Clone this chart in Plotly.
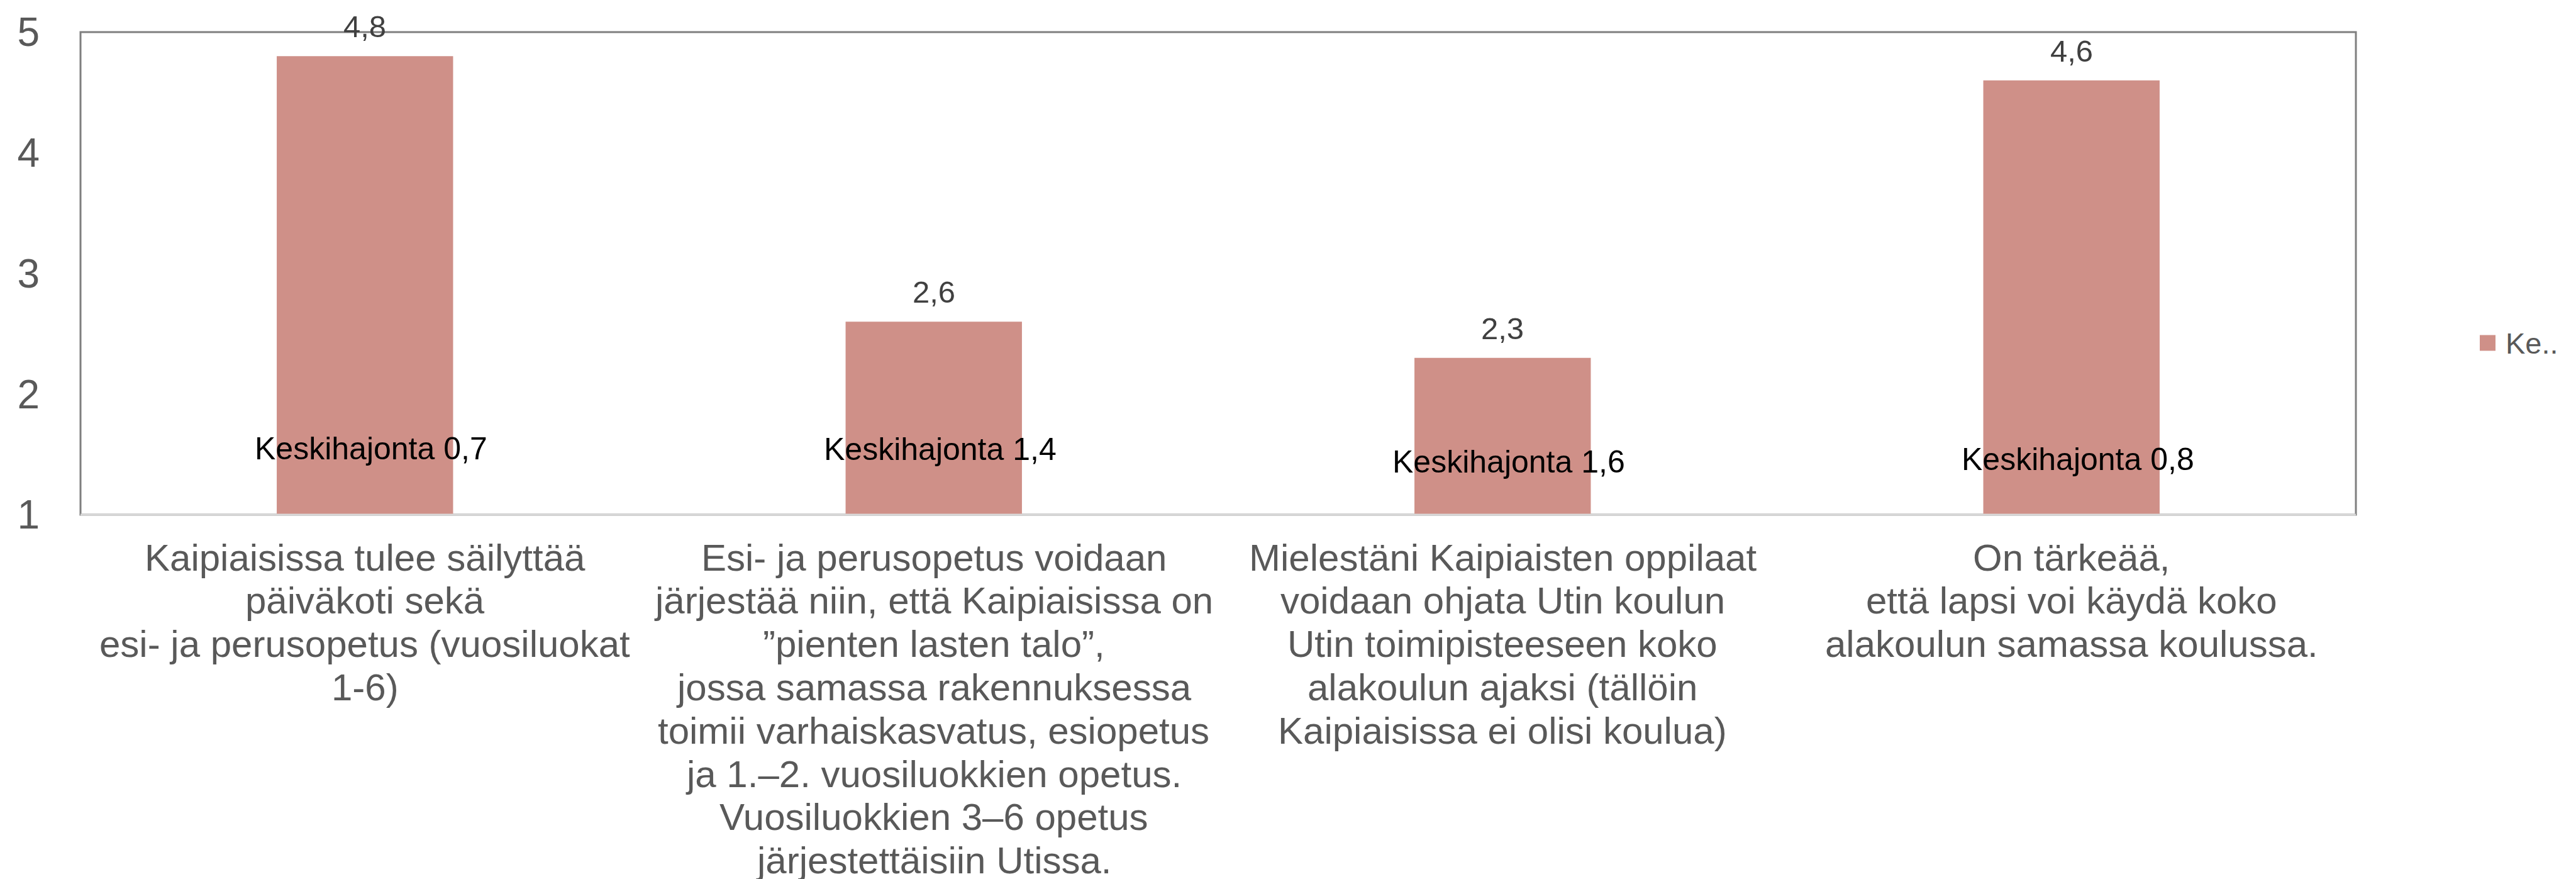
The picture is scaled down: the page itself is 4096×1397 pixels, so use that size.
import plotly.graph_objects as go

# ---- data ----
categories = [
    "Kaipiaisissa tulee säilyttää<br>päiväkoti sekä<br>esi- ja perusopetus (vuosiluokat<br>1-6)",
    "Esi- ja perusopetus voidaan<br>järjestää niin, että Kaipiaisissa on<br>”pienten lasten talo”,<br>jossa samassa rakennuksessa<br>toimii varhaiskasvatus, esiopetus<br>ja 1.–2. vuosiluokkien opetus.<br>Vuosiluokkien 3–6 opetus<br>järjestettäisiin Utissa.",
    "Mielestäni Kaipiaisten oppilaat<br>voidaan ohjata Utin koulun<br>Utin toimipisteeseen koko<br>alakoulun ajaksi (tällöin<br>Kaipiaisissa ei olisi koulua)",
    "On tärkeää,<br>että lapsi voi käydä koko<br>alakoulun samassa koulussa.",
]
means = [4.8, 2.6, 2.3, 4.6]
std_devs = [0.7, 1.4, 1.6, 0.8]
series_name = "Keskiarvo"
legend_label = "Ke.."
sd_prefix = "Keskihajonta"
y_ticks = [1, 2, 3, 4, 5]

# ---- style ----
FONT = "Liberation Sans, Arial, sans-serif"
BAR_COLOR = "#CF9088"
GRAY_TEXT = "#595959"
sd_label_y = [1.55, 1.54, 1.44, 1.46]  # vertical placement of the SD text boxes

W, H = 4096, 1397
L, R, T, B = 120, 3738, 43, 810

CAT_FONT = 60
CAT_FIRST = 68      # px below plot bottom to the centre of the first label line
CAT_SPACING = 68.8  # px between label lines


def fmt(v):
    return f"{v:.1f}".replace(".", ",")


fig = go.Figure()
fig.add_trace(go.Bar(
    x=categories,
    y=means,
    name=series_name,
    marker=dict(color=BAR_COLOR, line=dict(width=0)),
    showlegend=False,
))

annotations = []
# value labels
for c, m in zip(categories, means):
    annotations.append(dict(
        x=c, y=m, xref="x", yref="y", text=fmt(m), showarrow=False,
        yanchor="middle", yshift=47,
        font=dict(family=FONT, size=49, color="#404040"),
    ))
# standard-deviation text boxes
for c, s, ly in zip(categories, std_devs, sd_label_y):
    annotations.append(dict(
        x=c, y=ly, xref="x", yref="y", text=f"{sd_prefix} {fmt(s)}", showarrow=False,
        yanchor="middle", xshift=10,
        font=dict(family=FONT, size=50, color="#000000"),
    ))
# category labels (one annotation per line to get the tighter line spacing)
for c in categories:
    for i, line in enumerate(c.split("<br>")):
        annotations.append(dict(
            x=c, y=0, xref="x", yref="y domain", text=line, showarrow=False,
            xanchor="center", yanchor="middle",
            yshift=-(CAT_FIRST + i * CAT_SPACING),
            font=dict(family=FONT, size=CAT_FONT, color=GRAY_TEXT),
        ))
# legend text
annotations.append(dict(
    x=(3974 - L) / (R - L), y=(B - 537) / (B - T), xref="paper", yref="paper",
    text=legend_label, showarrow=False, xanchor="left", yanchor="middle",
    font=dict(family=FONT, size=47, color=GRAY_TEXT),
))

shapes = [
    # plot frame (gray)
    dict(type="rect", xref="x domain", yref="y domain", x0=0, x1=1, y0=0, y1=1,
         line=dict(color="#7F7F7F", width=3), layer="below"),
    # category axis line (light gray)
    dict(type="line", xref="x domain", yref="y domain", x0=0, x1=1, y0=0, y1=0,
         line=dict(color="#D9D9D9", width=3), layer="above"),
    # legend swatch
    dict(type="rect", xref="paper", yref="paper",
         x0=(3935 - L) / (R - L), x1=(3960 - L) / (R - L),
         y0=(B - 549.5) / (B - T), y1=(B - 524.5) / (B - T),
         line=dict(width=0), fillcolor=BAR_COLOR, layer="above"),
]

fig.update_layout(
    width=W, height=H,
    margin=dict(l=L, r=W - R, t=T, b=H - B, pad=0, autoexpand=False),
    paper_bgcolor="white", plot_bgcolor="white",
    bargap=0.69,
    showlegend=False,
    font=dict(family=FONT, color=GRAY_TEXT),
    annotations=annotations,
    shapes=shapes,
)
fig.update_xaxes(
    showgrid=False, showline=False, zeroline=False, ticks="",
    showticklabels=False, automargin=False,
)
fig.update_yaxes(
    range=[1, 5], tickvals=y_ticks, ticktext=[str(v) for v in y_ticks],
    showgrid=False, showline=False, zeroline=False, ticks="",
    tickfont=dict(family=FONT, size=64, color=GRAY_TEXT),
    ticklabelstandoff=64, automargin=False,
)

fig.write_html("out.html")
